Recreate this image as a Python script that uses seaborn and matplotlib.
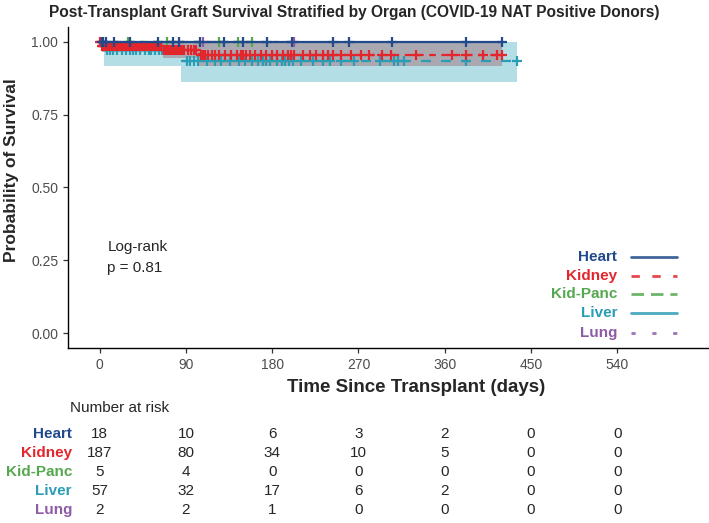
import numpy as np
import pandas as pd
import matplotlib
matplotlib.use("Agg")
import matplotlib.pyplot as plt
import matplotlib.transforms as mtransforms
from matplotlib.lines import Line2D
import seaborn as sns

# ---- data ------------------------------------------------------------------
organs = ["Heart", "Kidney", "Kid-Panc", "Liver", "Lung"]
colors = ["#214A8C", "#E3262B", "#55A84F", "#2A9DB5", "#8E5BA6"]

# KM step curves (time of step, survival after step)
heart_t = [0, 420]
heart_s = [1.0, 1.0]
kidney_t = [0, 2, 66, 104, 420]
kidney_s = [1.0, 0.984, 0.970, 0.955, 0.955]
kidney_lo = [1.0, 0.966, 0.945, 0.918, 0.918]
kidney_hi = [1.0, 1.0, 0.996, 0.994, 0.994]
kidpanc_t = [0, 159]
kidpanc_s = [1.0, 1.0]
liver_t = [0, 5, 85, 435]
liver_s = [1.0, 0.970, 0.935, 0.935]
liver_lo = [1.0, 0.915, 0.863, 0.863]
liver_hi = [1.0, 1.0, 1.0, 1.0]
lung_t = [0, 203]
lung_s = [1.0, 1.0]

# censoring times (+ marks)
heart_cens = [2, 4, 7, 15, 32, 61, 77, 83, 105, 130, 150, 175, 201, 243, 260,
              305, 382, 420]
kidney_cens = [0, 1, 2, 3, 4, 5, 6, 7, 8, 9, 10, 12, 13, 15, 16, 18, 19, 21,
               22, 24, 25, 27, 28, 30, 31, 33, 35, 36, 38, 40, 41, 43, 45, 46,
               48, 50, 52, 54, 56, 58, 60, 62, 64, 67, 68, 70, 72, 74, 76, 78,
               80, 82, 84, 86, 88, 92, 95, 98, 101, 106, 108, 110, 113, 117,
               120, 124, 131, 137, 143, 147, 150, 153, 157, 162, 168, 174, 180,
               185, 191, 197, 200, 203, 212, 219, 226, 233, 238, 243, 252, 262,
               273, 281, 295, 304, 330, 368, 382, 400, 415, 420]
kidpanc_cens = [30, 70, 124, 144, 159]
liver_cens = [1, 3, 8, 11, 14, 18, 23, 27, 32, 35, 38, 42, 47, 51, 54, 58, 62,
              65, 70, 75, 78, 81, 84, 91, 94, 98, 103, 112, 120, 127, 136, 145,
              152, 159, 165, 170, 174, 178, 185, 190, 193, 198, 202, 210, 223,
              233, 240, 252, 265, 292, 307, 311, 318, 382, 435]
lung_cens = [108, 203]

# number at risk table
risk_times = [0, 90, 180, 270, 360, 450, 540]
risk_heart = [18, 10, 6, 3, 2, 0, 0]
risk_kidney = [187, 80, 34, 10, 5, 0, 0]
risk_kidpanc = [5, 4, 0, 0, 0, 0, 0]
risk_liver = [57, 32, 17, 6, 2, 0, 0]
risk_lung = [2, 2, 1, 0, 0, 0, 0]

x_ticks = [0, 90, 180, 270, 360, 450, 540]
y_ticks = [0.00, 0.25, 0.50, 0.75, 1.00]


def surv_at(times, step_t, step_s):
    idx = np.searchsorted(step_t, times, side="right") - 1
    return np.asarray(step_s)[idx]


sns.set_style("ticks")
plt.rcParams["font.family"] = ["Liberation Sans", "DejaVu Sans"]

W, H = 709, 523
fig = plt.figure(figsize=(W / 100, H / 100), dpi=100)
# panel extends past right edge (reference is cropped)
ax = fig.add_axes([68 / W, 1 - 348 / H, (764 - 68) / W, (348 - 27) / H])

# confidence bands
ax.fill_between(liver_t, liver_lo, liver_hi, step="post", color="#B4DEE6", lw=0, zorder=1)
ax.fill_between(kidney_t, kidney_lo, kidney_hi, step="post", color="#A9A2AC",
                alpha=0.9, lw=0, zorder=1.5)

curves = [
    ("Heart", heart_t, heart_s, heart_cens, "-"),
    ("Kidney", kidney_t, kidney_s, kidney_cens, (0, (3, 2.5))),
    ("Kid-Panc", kidpanc_t, kidpanc_s, kidpanc_cens, (0, (4, 2))),
    ("Liver", liver_t, liver_s, liver_cens, (0, (4.5, 4.5))),
    ("Lung", lung_t, lung_s, lung_cens, (0, (2, 4))),
]
zord = {"Heart": 5, "Kidney": 4, "Kid-Panc": 3, "Liver": 3.5, "Lung": 3}
for (name, t, s, cens, ls), col in zip(curves, colors):
    df = pd.DataFrame({"time": t, "surv": s})
    sns.lineplot(data=df, x="time", y="surv", ax=ax, color=col, lw=1.6,
                 drawstyle="steps-post", linestyle=ls, estimator=None,
                 zorder=zord[name])
    cdf = pd.DataFrame({"time": cens, "surv": surv_at(cens, t, s)})
    sns.scatterplot(data=cdf, x="time", y="surv", ax=ax, marker="+", s=42,
                    color=col, linewidth=1.6, zorder=zord[name] + 0.2)

ax.set_xlim(-33, 693)
ax.set_ylim(-0.05, 1.05)
ax.set_xticks(x_ticks)
ax.set_yticks(y_ticks)
ax.set_yticklabels([f"{v:.2f}" for v in y_ticks])
ax.tick_params(axis="both", labelsize=10, labelcolor="#4D4D4D", color="#333333",
               length=3.5, width=0.9)
ax.set_xlabel("")
ax.set_ylabel("")
for side in ["top", "right"]:
    ax.spines[side].set_visible(False)
for side in ["left", "bottom"]:
    ax.spines[side].set_color("black")
    ax.spines[side].set_linewidth(1.0)

ax.text(8, 0.295, "Log-rank", fontsize=11, va="center", ha="left")
ax.text(8, 0.225, "p = 0.81", fontsize=11, va="center", ha="left")

# titles
fig.text(0.5, 1 - 12 / H, "Post-Transplant Graft Survival Stratified by Organ (COVID-19 NAT Positive Donors)",
         ha="center", va="center", fontsize=11.2, fontweight="bold")
fig.text(416 / W, 1 - 387 / H, "Time Since Transplant (days)", ha="center",
         va="center", fontsize=13.5, fontweight="bold")
fig.text(12 / W, 1 - 170 / H, "Probability of Survival", ha="center",
         va="center", rotation=90, fontsize=12.5, fontweight="bold")

# manual legend
leg_rows = [257, 276, 294, 313, 333]
leg_styles = ["-", (0, (3, 4.5)), (0, (4.5, 2.5)), "-", (0, (1.5, 6))]
for name, col, yy, ls in zip(organs, colors, leg_rows, leg_styles):
    fig.text(617 / W, 1 - yy / H, name, ha="right", va="center", fontsize=11,
             fontweight="bold", color=col)
    fig.add_artist(Line2D([631 / W, 677 / W], [1 - yy / H, 1 - yy / H],
                          color=col, lw=2.0, linestyle=ls, alpha=0.85))

# number at risk table
fig.text(70 / W, 1 - 408 / H, "Number at risk", ha="left", va="center", fontsize=11)
trans = mtransforms.blended_transform_factory(ax.transData, fig.transFigure)
risk_rows = [risk_heart, risk_kidney, risk_kidpanc, risk_liver, risk_lung]
row_y = [434, 453, 472, 491, 510]
for name, col, vals, yy in zip(organs, colors, risk_rows, row_y):
    fig.text(72 / W, 1 - yy / H, name, ha="right", va="center", fontsize=11,
             fontweight="bold", color=col)
    for t, v in zip(risk_times, vals):
        ax.text(t, 1 - yy / H, str(v), transform=trans, ha="center",
                va="center", fontsize=11, clip_on=False)

fig.savefig("out.png", dpi=100)
